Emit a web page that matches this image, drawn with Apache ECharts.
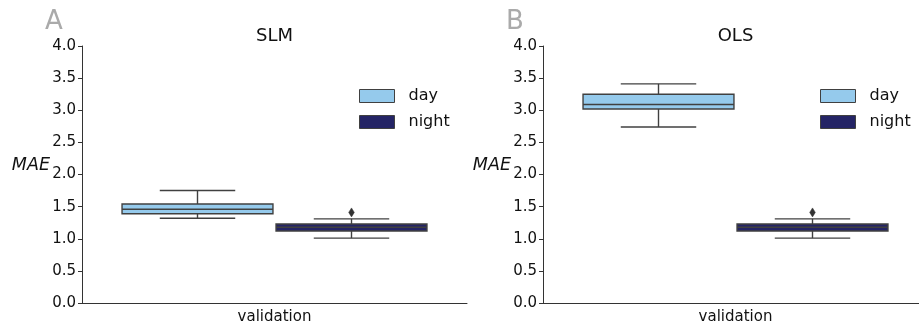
<!DOCTYPE html>
<html>
<head>
<meta charset="utf-8">
<script src="https://cdn.jsdelivr.net/npm/echarts@6/dist/echarts.min.js"></script>
<style>html,body{margin:0;padding:0;background:#fff}#c{width:919px;height:330px}</style>
</head>
<body>
<div id="c"></div>
<script>
// ---- data ----
const categories = ['validation'];
const hues = ['day', 'night'];
const panelTitles = ['SLM', 'OLS'];
const panelLetters = ['A', 'B'];
const yTicks = [0, 0.5, 1, 1.5, 2, 2.5, 3, 3.5, 4];
// [min, q1, median, q3, max]
const slmDay = [1.32, 1.39, 1.46, 1.54, 1.75];
const slmNight = [1.01, 1.12, 1.18, 1.23, 1.31];
const slmDayOutliers = [];
const slmNightOutliers = [1.41];
const olsDay = [2.74, 3.02, 3.09, 3.25, 3.41];
const olsNight = [1.01, 1.12, 1.18, 1.23, 1.31];
const olsDayOutliers = [];
const olsNightOutliers = [1.41];

// ---- style ----
const FONT = 'DejaVu Sans';
const colors = { day: '#95caec', night: '#242465' };
const edge = '#404040';
const hueOffset = { day: -0.2, night: 0.2 };

function boxRender(offset) {
  return function (params, api) {
    const band = api.size([1, 0])[0];
    const cx = api.coord([api.value(0), 0])[0] + offset * band;
    const w = 0.392 * band;
    const yMin = api.coord([api.value(0), api.value(1)])[1];
    const yQ1 = api.coord([api.value(0), api.value(2)])[1];
    const yMed = api.coord([api.value(0), api.value(3)])[1];
    const yQ3 = api.coord([api.value(0), api.value(4)])[1];
    const yMax = api.coord([api.value(0), api.value(5)])[1];
    const fill = api.visual('color');
    const ls = { stroke: edge, lineWidth: 1.4 };
    return {
      type: 'group',
      children: [
        { type: 'line', shape: { x1: cx, y1: yQ3, x2: cx, y2: yMax }, style: ls },
        { type: 'line', shape: { x1: cx, y1: yQ1, x2: cx, y2: yMin }, style: ls },
        { type: 'line', shape: { x1: cx - w / 4, y1: yMax, x2: cx + w / 4, y2: yMax }, style: ls },
        { type: 'line', shape: { x1: cx - w / 4, y1: yMin, x2: cx + w / 4, y2: yMin }, style: ls },
        { type: 'rect', shape: { x: cx - w / 2, y: yQ3, width: w, height: yQ1 - yQ3 }, style: { fill: fill, stroke: edge, lineWidth: 1.4 } },
        { type: 'line', shape: { x1: cx - w / 2, y1: yMed, x2: cx + w / 2, y2: yMed }, style: ls }
      ]
    };
  };
}
function outlierRender(offset) {
  return function (params, api) {
    const band = api.size([1, 0])[0];
    const p = api.coord([api.value(0), api.value(1)]);
    const cx = p[0] + offset * band;
    return {
      type: 'polygon',
      shape: { points: [[cx, p[1] - 4.5], [cx + 2.8, p[1]], [cx, p[1] + 4.5], [cx - 2.8, p[1]]] },
      style: { fill: '#333', stroke: '#333', lineWidth: 0.5 }
    };
  };
}

const panels = [
  { day: slmDay, night: slmNight, dayOut: slmDayOutliers, nightOut: slmNightOutliers },
  { day: olsDay, night: olsNight, dayOut: olsDayOutliers, nightOut: olsNightOutliers }
];
const gridPos = [
  { left: 82, top: 46, width: 385, height: 257 },
  { left: 543, top: 46, width: 385, height: 257 }
];

const grid = [], xAxis = [], yAxis = [], series = [], title = [], legend = [];
panels.forEach((pd, i) => {
  grid.push(Object.assign({ outerBoundsMode: 'none', containLabel: false }, gridPos[i]));
  xAxis.push({
    type: 'category', gridIndex: i, data: categories,
    axisLine: { lineStyle: { color: '#333', width: 1 } },
    axisTick: { alignWithLabel: true, length: 4, lineStyle: { color: '#333' } },
    axisLabel: { fontFamily: FONT, fontSize: 15, color: '#111', margin: 7 }
  });
  yAxis.push({
    type: 'value', gridIndex: i, min: yTicks[0], max: yTicks[yTicks.length - 1], interval: 0.5,
    name: 'MAE', nameLocation: 'middle', nameRotate: 0, nameGap: 32, nameMoveOverlap: false,
    nameTextStyle: { fontFamily: FONT, fontSize: 17.5, fontStyle: 'italic', color: '#111', verticalAlign: 'bottom' },
    axisLine: { show: true, lineStyle: { color: '#333', width: 1 } },
    axisTick: { show: true, length: 4, lineStyle: { color: '#333' } },
    splitLine: { show: false },
    axisLabel: { fontFamily: FONT, fontSize: 15, color: '#111', margin: 6, formatter: v => v.toFixed(1) }
  });
  hues.forEach(h => {
    series.push({
      type: 'custom', name: h, xAxisIndex: i, yAxisIndex: i,
      itemStyle: { color: colors[h] },
      encode: { x: 0, y: [1, 2, 3, 4, 5] },
      renderItem: boxRender(hueOffset[h]),
      data: [[0].concat(pd[h])]
    });
    const outs = h === 'day' ? pd.dayOut : pd.nightOut;
    series.push({
      type: 'custom', name: h, xAxisIndex: i, yAxisIndex: i,
      itemStyle: { color: colors[h] },
      encode: { x: 0, y: 1 },
      renderItem: outlierRender(hueOffset[h]),
      data: outs.map(v => [0, v])
    });
  });
  const cx = gridPos[i].left + gridPos[i].width / 2;
  title.push({
    text: panelTitles[i], left: cx, top: 27, textAlign: 'center', padding: 0,
    textStyle: { fontFamily: FONT, fontSize: 18, fontWeight: 'normal', color: '#111' }
  });
  title.push({
    text: panelLetters[i], left: gridPos[i].left - 37, top: 9, padding: 0,
    textStyle: { fontFamily: FONT, fontSize: 26, fontWeight: 'normal', color: '#aaaaaa' }
  });
  legend.push({
    orient: 'vertical', left: gridPos[i].left + 277, top: 88, padding: 0,
    itemWidth: 35, itemHeight: 13, itemGap: 10, selectedMode: false,
    textStyle: { fontFamily: FONT, fontSize: 16, color: '#111', padding: [0, 0, 0, 9] },
    data: hues.map(h => ({ name: h, icon: 'rect', itemStyle: { color: colors[h], borderColor: edge, borderWidth: 1 } }))
  });
});

const chart = echarts.init(document.getElementById('c'), null, { renderer: 'canvas' });
chart.setOption({ animation: false, backgroundColor: '#fff', title, legend, grid, xAxis, yAxis, series });
</script>
</body>
</html>
